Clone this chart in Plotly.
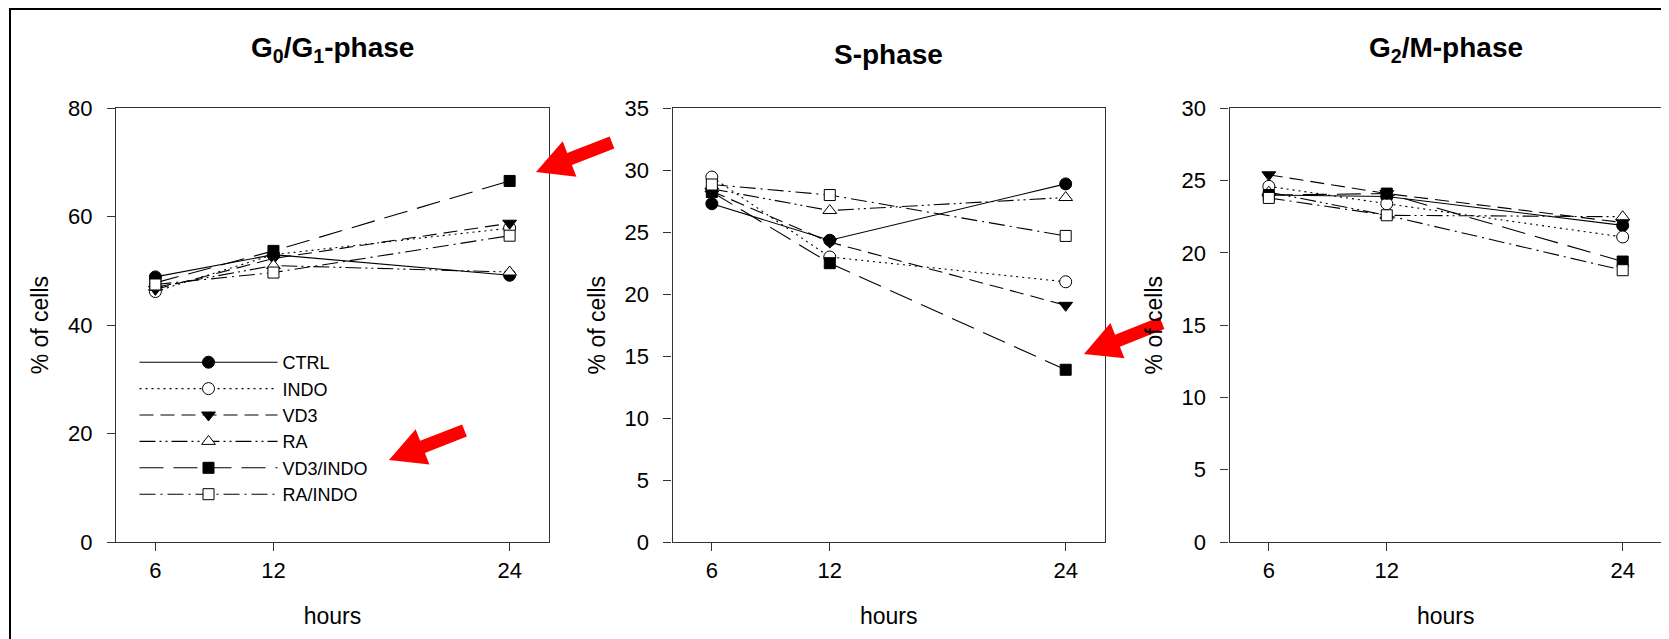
import plotly.graph_objects as go

W, H = 1669, 639
OFF = 8  # the page body adds an 8px margin; positions below are page pixels
FONT = "Arial, Liberation Sans, sans-serif"

# ---------------- data ----------------
hours = [6, 12, 24]
series_names = ["CTRL", "INDO", "VD3", "RA", "VD3/INDO", "RA/INDO"]

# G0/G1-phase (% of cells)
g1_ctrl = [48.9, 53.0, 49.2]
g1_indo = [46.2, 53.0, 57.9]
g1_vd3 = [46.6, 52.3, 58.8]
g1_ra = [47.0, 51.0, 49.8]
g1_vd3indo = [47.8, 53.7, 66.6]
g1_raindo = [47.5, 49.7, 56.5]

# S-phase (% of cells)
s_ctrl = [27.3, 24.35, 28.9]
s_indo = [29.45, 23.0, 21.0]
s_vd3 = [28.3, 24.2, 19.1]
s_ra = [28.5, 26.75, 27.8]
s_vd3indo = [28.25, 22.5, 13.9]
s_raindo = [28.85, 28.0, 24.7]

# G2/M-phase (% of cells)
g2_ctrl = [24.0, 23.9, 21.9]
g2_indo = [24.6, 23.4, 21.1]
g2_vd3 = [25.4, 24.1, 22.1]
g2_ra = [24.2, 22.6, 22.5]
g2_vd3indo = [24.0, 24.1, 19.4]
g2_raindo = [23.8, 22.6, 18.8]

panel_titles = ["G<sub>0</sub>/G<sub>1</sub>-phase", "S-phase", "G<sub>2</sub>/M-phase"]
y_ranges = [[0, 80], [0, 35], [0, 30]]
y_dticks = [20, 5, 5]
x_tickvals = [6, 12, 24]

panel_data = [
    [g1_ctrl, g1_indo, g1_vd3, g1_ra, g1_vd3indo, g1_raindo],
    [s_ctrl, s_indo, s_vd3, s_ra, s_vd3indo, s_raindo],
    [g2_ctrl, g2_indo, g2_vd3, g2_ra, g2_vd3indo, g2_raindo],
]

# ---------------- styles ----------------
dashes = ["solid", "2px,4px", "14px,7px", "16px,4px,2px,4px,2px,4px", "24px,10px", "16px,5px,2px,5px"]
symbols = ["circle", "circle", "triangle-down", "triangle-up", "square", "square"]
fills = ["black", "white", "black", "white", "black", "white"]
msizes = [12, 12, 12, 12, 11, 11]


def fx(px):
    return (px - OFF) / W


def fy(py):
    return 1 - (py - OFF) / H


# panel geometry in page pixels
x_px = [(116, 549), (672.5, 1105), (1229.5, 1662)]
y_px = (108.3, 542)
title_y_px = [49, 54, 49]

fig = go.Figure()

for p in range(3):
    xa = "x" if p == 0 else f"x{p+1}"
    ya = "y" if p == 0 else f"y{p+1}"
    for i, name in enumerate(series_names):
        fig.add_trace(go.Scatter(
            x=hours, y=panel_data[p][i], name=name, mode="lines+markers",
            xaxis=xa, yaxis=ya, legendgroup=name, showlegend=(p == 0),
            line=dict(color="black", width=1.1, dash=dashes[i]),
            marker=dict(symbol=symbols[i], size=msizes[i], color=fills[i],
                        line=dict(color="black", width=1)),
        ))

axis_common = dict(showgrid=False, zeroline=False, showline=True, linecolor="#333",
                   linewidth=1.2, mirror=True, ticks="outside", ticklen=8,
                   tickcolor="#333", automargin=False,
                   tickfont=dict(family=FONT, size=22, color="black"))
layout = {}
for p in range(3):
    sx = "" if p == 0 else str(p + 1)
    layout[f"xaxis{sx}"] = dict(
        axis_common, domain=[fx(x_px[p][0]), fx(x_px[p][1])], range=[4, 26],
        tickvals=x_tickvals, anchor=f"y{sx}", ticklabelstandoff=0,
        title=dict(text="hours", font=dict(family=FONT, size=23, color="black"), standoff=26),
    )
    layout[f"yaxis{sx}"] = dict(
        axis_common, domain=[fy(y_px[1]), fy(y_px[0])], range=y_ranges[p],
        dtick=y_dticks[p], anchor=f"x{sx}", ticklabelstandoff=10,
        title=dict(text="% of cells", font=dict(family=FONT, size=23, color="black"), standoff=12),
    )
fig.update_layout(**layout)

annotations = []
for p in range(3):
    annotations.append(dict(
        text=f"<b>{panel_titles[p]}</b>", xref="paper", yref="paper",
        x=fx((x_px[p][0] + x_px[p][1]) / 2), y=fy(title_y_px[p]),
        xanchor="center", yanchor="middle", showarrow=False,
        font=dict(family=FONT, size=28, color="black"),
    ))


def arrow_path(tip, tail, head_len, head_w, shaft_w):
    tx, ty = tip
    bx, by = tail
    dx, dy = bx - tx, by - ty
    L = (dx * dx + dy * dy) ** 0.5
    ux, uy = dx / L, dy / L
    nx, ny = -uy, ux
    cx, cy = tx + ux * head_len, ty + uy * head_len
    pts = [
        (tx, ty),
        (cx + nx * head_w / 2, cy + ny * head_w / 2),
        (cx + nx * shaft_w / 2, cy + ny * shaft_w / 2),
        (bx + nx * shaft_w / 2, by + ny * shaft_w / 2),
        (bx - nx * shaft_w / 2, by - ny * shaft_w / 2),
        (cx - nx * shaft_w / 2, cy - ny * shaft_w / 2),
        (cx - nx * head_w / 2, cy - ny * head_w / 2),
    ]
    return "M " + " L ".join(f"{fx(x):.5f},{fy(y):.5f}" for x, y in pts) + " Z"


shapes = [
    dict(type="rect", xref="paper", yref="paper", x0=fx(10), x1=1.01, y0=-0.01, y1=1 - 1 / H,
         line=dict(color="black", width=2), fillcolor="rgba(0,0,0,0)"),
]
arrows = [((536, 172), (612, 142.5)), ((389, 460), (464.5, 430.5)), ((1084, 354), (1162, 323))]
for tip, tail in arrows:
    shapes.append(dict(type="path", xref="paper", yref="paper",
                       path=arrow_path(tip, tail, 36, 38, 13),
                       fillcolor="#ff0000", line=dict(width=0)))

fig.update_layout(
    width=W, height=H, margin=dict(l=0, r=0, t=0, b=0, autoexpand=False),
    paper_bgcolor="white", plot_bgcolor="white",
    font=dict(family=FONT, color="black"),
    annotations=annotations, shapes=shapes,
    legend=dict(x=fx(134.5), y=fy(344), xanchor="left", yanchor="top",
                bgcolor="rgba(0,0,0,0)", font=dict(family=FONT, size=18, color="black"),
                itemwidth=138, tracegroupgap=0),
)

fig.write_html("out.html")
